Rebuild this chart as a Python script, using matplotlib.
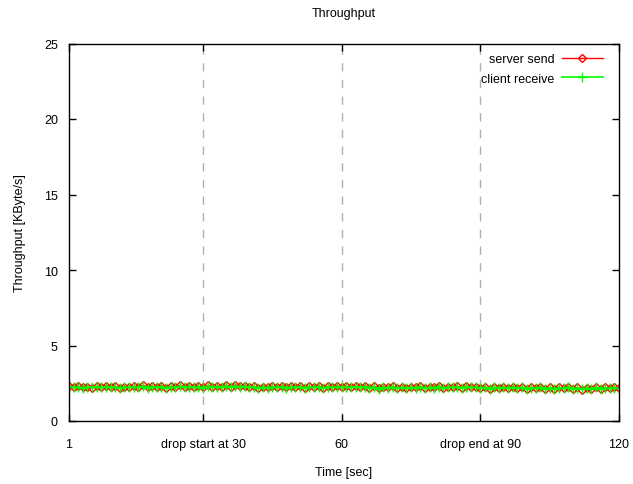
import matplotlib.pyplot as plt

plt.rcParams['font.family'] = ['Liberation Sans', 'DejaVu Sans']

# time axis in seconds, one sample per second
time_sec = list(range(1, 121))

server_send = [
    2.32, 2.25, 2.30, 2.22, 2.28, 2.20, 2.30, 2.24, 2.34, 2.26,
    2.30, 2.18, 2.28, 2.22, 2.30, 2.24, 2.36, 2.22, 2.30, 2.26,
    2.34, 2.20, 2.30, 2.25, 2.36, 2.22, 2.32, 2.26, 2.30, 2.22,
    2.36, 2.24, 2.32, 2.28, 2.38, 2.26, 2.40, 2.30, 2.34, 2.24,
    2.30, 2.20, 2.28, 2.22, 2.30, 2.24, 2.32, 2.22, 2.30, 2.26,
    2.34, 2.20, 2.30, 2.24, 2.32, 2.18, 2.30, 2.26, 2.34, 2.22,
    2.30, 2.24, 2.32, 2.26, 2.34, 2.20, 2.30, 2.18, 2.26, 2.22,
    2.30, 2.16, 2.24, 2.20, 2.28, 2.22, 2.30, 2.18, 2.26, 2.22,
    2.32, 2.20, 2.28, 2.24, 2.30, 2.20, 2.32, 2.24, 2.28, 2.18,
    2.26, 2.14, 2.24, 2.18, 2.26, 2.20, 2.28, 2.16, 2.24, 2.12,
    2.24, 2.16, 2.28, 2.14, 2.22, 2.10, 2.24, 2.16, 2.28, 2.14,
    2.22, 2.08, 2.20, 2.14, 2.26, 2.12, 2.22, 2.16, 2.24, 2.18,
]

client_receive = [
    2.28, 2.24, 2.26, 2.20, 2.26, 2.22, 2.26, 2.22, 2.28, 2.24,
    2.26, 2.20, 2.24, 2.22, 2.26, 2.22, 2.30, 2.20, 2.26, 2.24,
    2.28, 2.20, 2.26, 2.22, 2.30, 2.22, 2.28, 2.24, 2.26, 2.20,
    2.30, 2.22, 2.28, 2.26, 2.32, 2.24, 2.32, 2.26, 2.30, 2.22,
    2.26, 2.20, 2.24, 2.20, 2.26, 2.22, 2.28, 2.20, 2.26, 2.22,
    2.28, 2.18, 2.26, 2.22, 2.28, 2.18, 2.26, 2.22, 2.28, 2.22,
    2.26, 2.22, 2.28, 2.24, 2.28, 2.20, 2.26, 2.12, 2.22, 2.20,
    2.26, 2.16, 2.22, 2.18, 2.24, 2.20, 2.26, 2.18, 2.22, 2.20,
    2.28, 2.18, 2.24, 2.22, 2.26, 2.20, 2.28, 2.22, 2.24, 2.18,
    2.22, 2.14, 2.22, 2.16, 2.22, 2.18, 2.24, 2.16, 2.22, 2.14,
    2.20, 2.16, 2.24, 2.14, 2.20, 2.12, 2.20, 2.16, 2.24, 2.14,
    2.18, 2.12, 2.18, 2.14, 2.22, 2.12, 2.20, 2.16, 2.20, 2.16,
]

xticks = [1, 30, 60, 90, 120]
xtick_labels = ['1', 'drop start at 30', '60', 'drop end at 90', '120']
yticks = [0, 5, 10, 15, 20, 25]

fig = plt.figure(figsize=(6.33, 4.85), dpi=100)
ax = fig.add_axes([69 / 633, 63 / 485, 550 / 633, 377.5 / 485])

ax.plot(time_sec, server_send, color='red', lw=1, marker='D', ms=4,
        mfc='none', mew=1, label='server send')
ax.plot(time_sec, client_receive, color='#00ff00', lw=1.2, marker='+', ms=7,
        mew=1, label='client receive')

ax.set_xlim(1, 120)
ax.set_ylim(0, 25)
ax.set_xticks(xticks)
ax.set_xticklabels(xtick_labels)
ax.set_yticks(yticks)
ax.tick_params(direction='in', top=True, right=True, length=5, width=1,
               labelsize=9)
ax.tick_params(axis='x', pad=12)
ax.tick_params(axis='y', pad=8)
for s in ax.spines.values():
    s.set_linewidth(1)

# dashed vertical grid at the interior ticks
for x in xticks[1:-1]:
    ax.axvline(x, color='#b0b0b0', lw=1, ls=(0, (6, 6)), zorder=0)

ax.set_title('Throughput', fontsize=9, pad=20)
ax.set_xlabel('Time [sec]', fontsize=9, labelpad=12)
ax.set_ylabel('Throughput [KByte/s]', fontsize=9, labelpad=13)

ax.legend(loc='upper right', bbox_to_anchor=(0.971, 0.974), frameon=False,
          markerfirst=False, fontsize=9, handlelength=3.3, handletextpad=0.6,
          borderaxespad=0.0, borderpad=0.0, labelspacing=0.6)

fig.savefig('out.png', dpi=100)
